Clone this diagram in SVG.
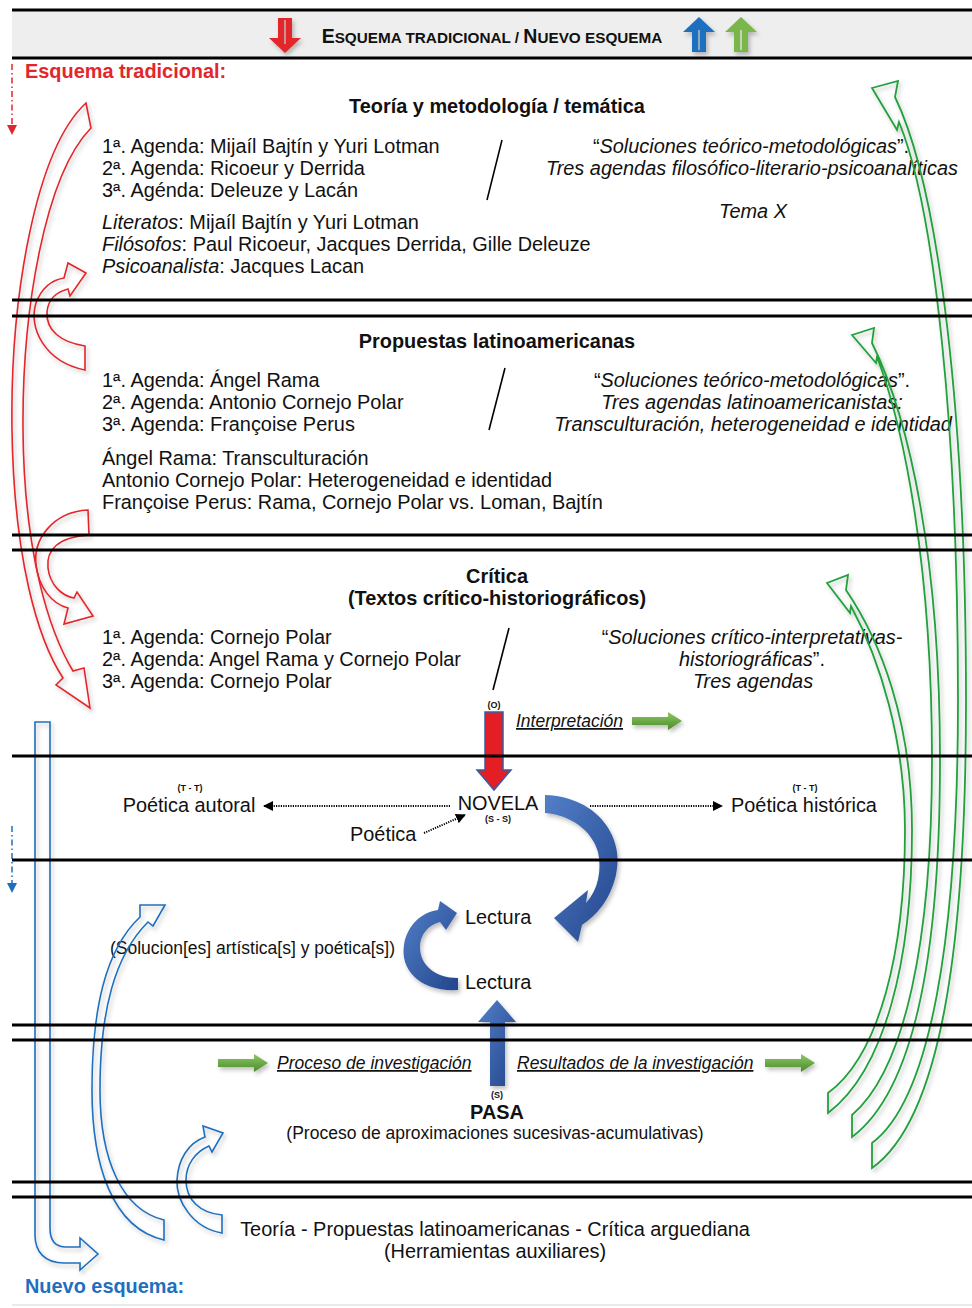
<svg xmlns="http://www.w3.org/2000/svg" width="972" height="1308" viewBox="0 0 972 1308">
<defs>
<style>
text{font-family:"Liberation Sans",Arial,sans-serif;fill:#111}
.t{font-size:19.9px}
.s{font-size:17.5px}
.xs{font-size:9px}
.b{font-weight:bold}
.i{font-style:italic}
.u{text-decoration:underline}
.m{text-anchor:middle}
.hl{stroke:#000;stroke-width:2.8;fill:none}
.red{fill:none;stroke:#e3262b;stroke-width:1.6}
.grn{fill:none;stroke:#22a03c;stroke-width:1.8}
.blu{fill:none;stroke:#1f6fbf;stroke-width:1.6}
.dot{stroke:#000;stroke-width:2;stroke-dasharray:1.2 1.2;fill:none}
.sl{stroke:#000;stroke-width:1.6}
</style>
<filter id="sh" x="-30%" y="-30%" width="160%" height="160%"><feDropShadow dx="2" dy="3" stdDeviation="2" flood-color="#000" flood-opacity="0.25"/></filter>
<linearGradient id="gg" x1="0" y1="0" x2="0" y2="1"><stop offset="0" stop-color="#8dc866"/><stop offset="1" stop-color="#4a8a2a"/></linearGradient>
<linearGradient id="bg" x1="0" y1="0" x2="1" y2="1"><stop offset="0" stop-color="#527fc8"/><stop offset="1" stop-color="#23468c"/></linearGradient>
<path id="ga" d="M0,-4H36V-9L50,0L36,9V4H0Z" fill="url(#gg)"/>
<marker id="ah" markerWidth="10" markerHeight="10" refX="9" refY="5" orient="auto" markerUnits="userSpaceOnUse"><path d="M0,0L10,5L0,10Z" fill="#000"/></marker>
</defs>
<rect width="972" height="1308" fill="#fff"/>

<g id="header">
<rect x="12" y="10" width="960" height="48" fill="#eeeeee"/>
<path d="M278,18H292V38H301L285,53L269,38H278Z" fill="#e3262b" filter="url(#sh)"/>
<line x1="285" y1="20" x2="285" y2="44" stroke="#bbb" stroke-width="1.5"/>
<text class="b m" x="492" y="43"><tspan font-size="19.5px">E</tspan><tspan font-size="15.3px">SQUEMA TRADICIONAL / </tspan><tspan font-size="19.5px">N</tspan><tspan font-size="15.3px">UEVO ESQUEMA</tspan></text>
<path d="M692,52H706V32H715L699,17L683,32H692Z" fill="#1f6fbf" filter="url(#sh)"/>
<line x1="699" y1="30" x2="699" y2="50" stroke="#bbb" stroke-width="1.5"/>
<path d="M734,52H748V32H757L741,17L725,32H734Z" fill="#7ab648" filter="url(#sh)"/>
<line x1="741" y1="30" x2="741" y2="50" stroke="#ddd" stroke-width="1.5"/>
</g>

<g id="legend">
<text class="t b" x="25" y="78" style="fill:#e3262b">Esquema tradicional:</text>
<line x1="12" y1="64" x2="12" y2="126" stroke="#e3262b" stroke-width="1.5" stroke-dasharray="6 3 1.5 3"/>
<path d="M7,125L17,125L12,135Z" fill="#e3262b"/>
<text class="t b" x="25" y="1293" style="fill:#1f6fbf">Nuevo esquema:</text>
<line x1="12" y1="826" x2="12" y2="884" stroke="#1f6fbf" stroke-width="1.5" stroke-dasharray="6 3 1.5 3"/>
<path d="M7,883L17,883L12,893Z" fill="#1f6fbf"/>
</g>

<g id="sec-teoria">
<text class="t b m" x="497" y="113">Teoría y metodología / temática</text>
<text class="t" x="102" y="152.5">1ª. Agenda: Mijaíl Bajtín y Yuri Lotman</text>
<text class="t" x="102" y="174.5">2ª. Agenda: Ricoeur y Derrida</text>
<text class="t" x="102" y="196.5">3ª. Agénda: Deleuze y Lacán</text>
<text class="t" x="102" y="229"><tspan class="i">Literatos</tspan>: Mijaíl Bajtín y Yuri Lotman</text>
<text class="t" x="102" y="251"><tspan class="i">Filósofos</tspan>: Paul Ricoeur, Jacques Derrida, Gille Deleuze</text>
<text class="t" x="102" y="273"><tspan class="i">Psicoanalista</tspan>: Jacques Lacan</text>
<line class="sl" x1="502" y1="140" x2="487" y2="200"/>
<text class="t m" x="751" y="152.5">“<tspan class="i">Soluciones teórico-metodológicas</tspan>”.</text>
<text class="t m i" x="752" y="174.5">Tres agendas filosófico-literario-psicoanalíticas</text>
<text class="t m i" x="753" y="218">Tema X</text>
</g>

<g id="sec-propuestas">
<text class="t b m" x="497" y="348">Propuestas latinoamericanas</text>
<text class="t" x="102" y="387">1ª. Agenda: Ángel Rama</text>
<text class="t" x="102" y="409">2ª. Agenda: Antonio Cornejo Polar</text>
<text class="t" x="102" y="431">3ª. Agenda: Françoise Perus</text>
<text class="t" x="102" y="465">Ángel Rama: Transculturación</text>
<text class="t" x="102" y="487">Antonio Cornejo Polar: Heterogeneidad e identidad</text>
<text class="t" x="102" y="509">Françoise Perus: Rama, Cornejo Polar vs. Loman, Bajtín</text>
<line class="sl" x1="505" y1="368" x2="489" y2="430"/>
<text class="t m" x="752" y="387">“<tspan class="i">Soluciones teórico-metodológicas</tspan>”.</text>
<text class="t m i" x="752" y="409">Tres agendas latinoamericanistas:</text>
<text class="t m i" x="753" y="431">Transculturación, heterogeneidad e identidad</text>
</g>

<g id="sec-critica">
<text class="t b m" x="497" y="583">Crítica</text>
<text class="t b m" x="497" y="605">(Textos crítico-historiográficos)</text>
<text class="t" x="102" y="644">1ª. Agenda: Cornejo Polar</text>
<text class="t" x="102" y="666">2ª. Agenda: Angel Rama y Cornejo Polar</text>
<text class="t" x="102" y="688">3ª. Agenda: Cornejo Polar</text>
<line class="sl" x1="509" y1="628" x2="493" y2="690"/>
<text class="t m" x="752" y="644">“<tspan class="i">Soluciones crítico-interpretativas-</tspan></text>
<text class="t m" x="752" y="666"><tspan class="i">historiográficas</tspan>”.</text>
<text class="t m i" x="753" y="688">Tres agendas</text>
</g>

<g id="novela">
<text class="xs b m" x="494" y="708">(O)</text>
<path d="M485,712H503V770H511L494,790L477,770H485Z" fill="#e31e24" stroke="#3a5ba0" stroke-width="1.5"/>
<text class="s i u" x="516" y="727">Interpretación</text>
<use href="#ga" x="632" y="721" filter="url(#sh)"/>
<text class="t m" x="498" y="810">NOVELA</text>
<text class="xs b m" x="498" y="822">(S - S)</text>
<text class="xs b m" x="190" y="791">(T - T)</text>
<text class="t m" x="189" y="812">Poética autoral</text>
<text class="xs b m" x="805" y="791">(T - T)</text>
<text class="t" x="731" y="812">Poética histórica</text>
<text class="t" x="350" y="841">Poética</text>
</g>

<g id="lectura">
<text class="t" x="465" y="924">Lectura</text>
<text class="t" x="465" y="989">Lectura</text>
<text class="s" x="110" y="954">(Solucion[es] artística[s] y poética[s])</text>
</g>

<g id="pasa">
<use href="#ga" x="218" y="1063" filter="url(#sh)"/>
<text class="s i u" x="277" y="1069">Proceso de investigación</text>
<text class="s i u" x="517" y="1069">Resultados de la investigación</text>
<use href="#ga" x="765" y="1063" filter="url(#sh)"/>
<text class="xs b m" x="497" y="1098">(S)</text>
<text class="t b m" x="497" y="1119">PASA</text>
<text class="s m" x="495" y="1139">(Proceso de aproximaciones sucesivas-acumulativas)</text>
</g>

<g id="herramientas">
<text class="t m" x="495" y="1236">Teoría - Propuestas latinoamericanas - Crítica arguediana</text>
<text class="t m" x="495" y="1258">(Herramientas auxiliares)</text>
</g>

<g id="connectors">
<g id="red-arrows" filter="url(#sh)">
<path class="red" d="M86,103C35,150 10,300 12,430C14,560 38,640 63,678L56,685L90,708L84,668L73,671C50,633 24,555 23,430C22,310 45,175 91,128Z"/>
<path class="red" d="M85,370C45,362 28,328 36,303C42,287 52,280 64,278L68,263L86,273L70,296L68,289C56,292 48,300 47,312C46,330 60,342 85,346Z"/>
<path class="red" d="M88,510C52,512 33,540 36,565C39,588 52,604 68,608L64,624L93,616L77,592L74,598C62,596 50,585 48,568C46,550 58,537 89,535Z"/>
</g>
<g id="green-arrows" filter="url(#sh)">
<path class="grn" d="M872,88L898,81L895,97C940,190 966,420 966,700C966,950 940,1120 872,1168L872,1143C930,1100 958,940 958,700C958,430 935,210 899,122L897,130Z"/>
<path class="grn" d="M852,335L874,328L872,343C910,420 940,560 940,760C940,950 915,1090 852,1137L852,1115C905,1070 932,940 932,760C932,570 905,430 877,357L876,363Z"/>
<path class="grn" d="M827,583L848,575L846,590C880,640 912,720 912,830C912,960 885,1070 828,1113L828,1093C880,1055 905,950 905,830C905,740 880,660 851,606L850,613Z"/>
</g>
<g id="blue-arrows" filter="url(#sh)">
<path class="blu" d="M35,722H50V1228C50,1240 55,1247 66,1247H80V1238L98,1254L80,1270V1263H64C45,1263 35,1252 35,1235Z"/>
<path class="blu" d="M164,1240C112,1228 92,1165 92,1090C92,1010 105,950 140,917L140,905L165,905L153,926L148,922C115,955 100,1010 100,1090C100,1160 122,1210 164,1220Z"/>
<path class="blu" d="M222,1233C192,1228 176,1200 177,1180C178,1160 188,1143 205,1137L203,1126L223,1133L212,1152L209,1146C195,1152 186,1165 186,1180C186,1200 200,1213 222,1215Z"/>
</g>
<g id="flow">
<path d="M545,795C600,797 625,840 616,875C610,900 597,915 582,925L578,942L554,918L588,890L586,903C598,890 602,870 598,852C592,830 570,815 545,813Z" fill="url(#bg)" filter="url(#sh)"/>
<path d="M458,990C420,992 400,970 404,945C407,925 422,912 438,910L440,901L457,913L446,930L440,922C428,925 420,935 420,947C420,965 435,978 458,978Z" fill="url(#bg)" filter="url(#sh)"/>
<path d="M490,1086H505V1022H516L497,1000L478,1022H490Z" fill="url(#bg)" filter="url(#sh)"/>
<line class="dot" x1="450" y1="806" x2="264" y2="806" marker-end="url(#ah)"/>
<line class="dot" x1="590" y1="806" x2="722" y2="806" marker-end="url(#ah)"/>
<line class="dot" x1="424" y1="833" x2="465" y2="815" marker-end="url(#ah)"/>
</g>
</g>

<g id="rules">
<line class="hl" x1="12" y1="10" x2="972" y2="10"/>
<line class="hl" x1="12" y1="58" x2="972" y2="58"/>
<line class="hl" x1="12" y1="300" x2="972" y2="300"/>
<line class="hl" x1="12" y1="316" x2="972" y2="316"/>
<line class="hl" x1="12" y1="535" x2="972" y2="535"/>
<line class="hl" x1="12" y1="550" x2="972" y2="550"/>
<line class="hl" x1="12" y1="756" x2="972" y2="756"/>
<line class="hl" x1="12" y1="860" x2="972" y2="860"/>
<line class="hl" x1="12" y1="1025" x2="972" y2="1025"/>
<line class="hl" x1="12" y1="1040" x2="972" y2="1040"/>
<line class="hl" x1="12" y1="1182" x2="972" y2="1182"/>
<line class="hl" x1="12" y1="1197" x2="972" y2="1197"/>
<line x1="12" y1="1305" x2="972" y2="1305" stroke="#e4e4e4" stroke-width="1.5"/>
</g>
</svg>
